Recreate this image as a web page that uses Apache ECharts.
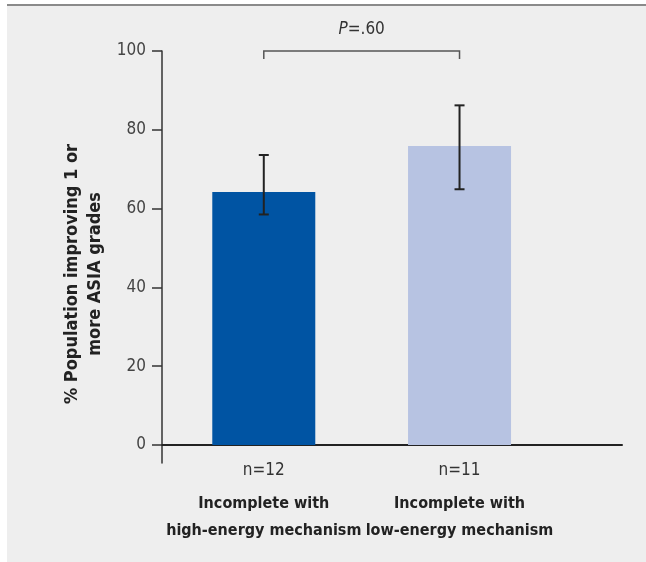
<!DOCTYPE html>
<html>
<head>
<meta charset="utf-8">
<script src="https://cdn.jsdelivr.net/npm/echarts@6/dist/echarts.min.js"></script>
<style>
    html, body { margin: 0; padding: 0; background: #fff; }
    #panel { position: absolute; left: 7px; top: 4px; right: 0; bottom: 0; background: #eeeeee; border-top: 2px solid #8a8a8a; }
    #chart { position: absolute; left: 0; top: 0; width: 646px; height: 562px; }
</style>
</head>
<body>
<div id="panel"></div>
<div id="chart"></div>
<script>
// data
var groups = ['Incomplete with\nhigh-energy mechanism', 'Incomplete with\nlow-energy mechanism'];
var sampleSizes = ['n=12', 'n=11'];
var positions = [0.5, 1.5];
var percentImproving = [64.2, 75.9];
var errLow = [58.5, 64.9];
var errHigh = [73.6, 86.2];
var barColors = ['#0054a3', '#b7c3e2'];
var yTicks = [0, 20, 40, 60, 80, 100];
var pValueText = '=.60';

var FONT = "'Liberation Sans Narrow', 'DejaVu Sans Condensed', 'Roboto Condensed', 'Liberation Sans', sans-serif";

var dom = document.getElementById('chart');
var myChart = echarts.init(dom);

var barData = percentImproving.map(function (v, i) {
    return {
        value: [positions[i], v],
        itemStyle: { color: barColors[i] }
    };
});
var errData = positions.map(function (x, i) {
    return [x, errLow[i], errHigh[i]];
});

function groupLabel(value) {
    var idx = -1;
    positions.forEach(function (p, i) {
        if (Math.abs(p - value) < 1e-6) idx = i;
    });
    if (idx < 0) return '';
    var lines = groups[idx].split('\n');
    return '{n|' + sampleSizes[idx] + '}\n{b|' + lines[0] + '}\n{b|' + lines[1] + '}';
}

var option = {
    animation: false,
    textStyle: { fontFamily: FONT },
    grid: { left: 162, right: 24, top: 51, bottom: 99, containLabel: false },
    xAxis: {
        type: 'value',
        min: -0.02,
        max: 2.33,
        axisLine: { show: true, onZero: true, lineStyle: { color: '#222', width: 2 } },
        axisTick: { show: false },
        splitLine: { show: false },
        axisLabel: {
            customValues: positions,
            hideOverlap: false,
            margin: -12,
            formatter: groupLabel,
            rich: {
                n: { fontSize: 17, color: '#333', lineHeight: 39, fontFamily: FONT },
                b: { fontSize: 16, fontWeight: 'bold', color: '#222', lineHeight: 27, fontFamily: FONT }
            }
        }
    },
    yAxis: {
        type: 'value',
        min: -4.6,
        max: 100,
        axisLine: { show: true, onZero: false, lineStyle: { color: '#333', width: 1.5 } },
        axisTick: { show: true, length: 10, customValues: yTicks, lineStyle: { color: '#333', width: 1.5 } },
        splitLine: { show: false },
        axisLabel: {
            customValues: yTicks,
            margin: 16,
            fontSize: 17,
            color: '#444',
            fontFamily: FONT
        }
    },
    graphic: [
        {
            type: 'text',
            x: 84,
            y: 274,
            rotation: Math.PI / 2,
            style: {
                text: '% Population improving 1 or\nmore ASIA grades',
                fontSize: 18,
                fontWeight: 'bold',
                fontFamily: FONT,
                fill: '#222',
                align: 'center',
                verticalAlign: 'middle',
                lineHeight: 23
            }
        }
    ],
    series: [
        {
            type: 'bar',
            data: barData,
            barWidth: 103,
            z: 2
        },
        {
            type: 'custom',
            data: errData,
            clip: false,
            z: 5,
            encode: { x: 0, y: [1, 2] },
            renderItem: function (params, api) {
                var x = api.value(0);
                var lo = api.coord([x, api.value(1)]);
                var hi = api.coord([x, api.value(2)]);
                var hw = 5;
                var style = { stroke: '#222', lineWidth: 2 };
                return {
                    type: 'group',
                    children: [
                        { type: 'line', shape: { x1: lo[0], y1: lo[1], x2: hi[0], y2: hi[1] }, style: style },
                        { type: 'line', shape: { x1: hi[0] - hw, y1: hi[1], x2: hi[0] + hw, y2: hi[1] }, style: style },
                        { type: 'line', shape: { x1: lo[0] - hw, y1: lo[1], x2: lo[0] + hw, y2: lo[1] }, style: style }
                    ]
                };
            }
        },
        {
            // significance bracket between the two groups
            type: 'custom',
            data: [[positions[0], positions[1], 100, 98]],
            clip: false,
            z: 5,
            encode: { x: [0, 1], y: [2, 3] },
            renderItem: function (params, api) {
                var a = api.coord([api.value(0), api.value(2)]);
                var b = api.coord([api.value(1), api.value(2)]);
                var drop = api.coord([api.value(0), api.value(3)])[1];
                return {
                    type: 'group',
                    children: [
                        {
                            type: 'polyline',
                            shape: { points: [[a[0], drop], a, b, [b[0], drop]] },
                            style: { stroke: '#555', lineWidth: 1.5, fill: null }
                        },
                        {
                            type: 'text',
                            x: (a[0] + b[0]) / 2,
                            y: a[1] - 21,
                            style: {
                                text: '{i|P}{r|' + pValueText + '}',
                                align: 'center',
                                verticalAlign: 'middle',
                                rich: {
                                    i: { fontSize: 17, fontStyle: 'italic', fill: '#333', fontFamily: FONT },
                                    r: { fontSize: 17, fill: '#333', fontFamily: FONT }
                                }
                            }
                        }
                    ]
                };
            }
        }
    ]
};

myChart.setOption(option);
</script>
</body>
</html>
